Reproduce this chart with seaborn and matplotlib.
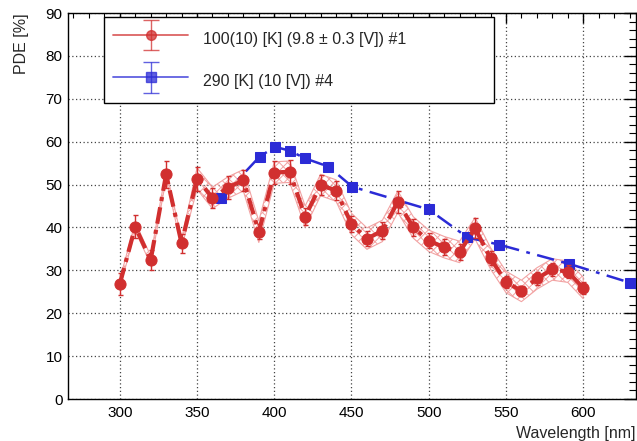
import numpy as np
import pandas as pd
import matplotlib
matplotlib.use("Agg")
import matplotlib.pyplot as plt
import seaborn as sns
from matplotlib.legend_handler import HandlerErrorbar
from matplotlib.container import ErrorbarContainer
from matplotlib.ticker import MultipleLocator

# ---------------- data ----------------
red_label = "100(10) [K] (9.8 \u00b1 0.3 [V]) #1"
blue_label = "290 [K] (10 [V]) #4"

red_wl = [300, 310, 320, 330, 340, 350, 360, 370, 380, 390, 400, 410, 420, 430,
          440, 450, 460, 470, 480, 490, 500, 510, 520, 530, 540, 550, 560, 570,
          580, 590, 600]
red_pde = [26.8, 40.2, 32.4, 52.4, 36.3, 51.4, 46.9, 49.3, 51.0, 39.0, 52.8,
           53.0, 42.5, 49.9, 48.6, 40.8, 37.4, 39.2, 46.0, 40.0, 36.9, 35.4,
           34.3, 39.8, 32.8, 27.3, 25.2, 28.1, 30.2, 29.7, 25.9]
red_err = [2.5, 2.6, 2.3, 3.2, 2.2, 2.8, 2.4, 2.6, 2.5, 1.8, 2.7, 2.8, 2.0, 2.4,
           2.3, 1.9, 1.8, 2.0, 2.6, 1.9, 1.8, 1.8, 1.8, 2.3, 1.6, 1.4, 1.2, 1.4,
           1.5, 1.5, 1.4]
red_band = [1.0, 1.0, 1.0, 1.0, 1.0, 2.5, 2.5, 2.5, 2.5, 2.5, 2.5, 2.5, 2.5,
            2.5, 2.5, 2.5, 2.5, 2.5, 2.5, 2.5, 2.5, 2.5, 2.5, 2.5, 2.5, 2.5,
            2.5, 2.5, 2.5, 2.5, 2.5]

blue_wl = [365.5, 390.5, 400.5, 410, 420, 435, 450.5, 500, 525, 545.5, 591, 630.5]
blue_pde = [46.9, 56.5, 58.8, 57.9, 56.1, 54.2, 49.5, 44.2, 37.7, 36.0, 31.5, 27.1]

x_ticks = [300, 350, 400, 450, 500, 550, 600]
y_ticks = [0, 10, 20, 30, 40, 50, 60, 70, 80, 90]

red_df = pd.DataFrame({"wl": red_wl, "pde": red_pde, "err": red_err, "band": red_band})
blue_df = pd.DataFrame({"wl": blue_wl, "pde": blue_pde})

# ---------------- style ----------------
sns.set_style("white")
plt.rcParams["font.family"] = ["Liberation Sans", "DejaVu Sans"]
plt.rcParams["hatch.linewidth"] = 0.7

RED = "#d12f2f"
BLUE = "#2b2bd6"
BAND = "#f2a3a3"

fig = plt.figure(figsize=(6.37, 4.41), dpi=100)
ax = fig.add_axes([0.1068, 0.0952, 0.8912, 0.8753])

# hatched band
ax.fill_between(red_df["wl"], red_df["pde"] - red_df["band"], red_df["pde"] + red_df["band"],
                facecolor="none", edgecolor=BAND, hatch="xxxx", linewidth=0.8, zorder=2)

# blue series
sns.lineplot(data=blue_df, x="wl", y="pde", ax=ax, color=BLUE, linewidth=1.8,
             linestyle=(0, (7, 3, 1.5, 3)), marker="s", markersize=7.5,
             markeredgecolor=BLUE, sort=False, errorbar=None, zorder=3)

# red series
ax.errorbar(red_df["wl"], red_df["pde"], yerr=red_df["err"], fmt="none",
            ecolor=RED, elinewidth=1.0, capsize=1.8, zorder=4)
sns.lineplot(data=red_df, x="wl", y="pde", ax=ax, color=RED, linewidth=3.0,
             linestyle=(0, (4, 1.5, 1, 1.5)), marker="o", markersize=8,
             markeredgecolor=RED, sort=False, errorbar=None, zorder=5)

# legend handles
h_red = ax.errorbar([np.nan], [np.nan], yerr=[1.0], fmt="o-", color=RED, alpha=0.75,
                    lw=1.3, markersize=7, capsize=6, elinewidth=1.0, label=red_label)
h_blue = ax.errorbar([np.nan], [np.nan], yerr=[1.0], fmt="s-", color=BLUE, alpha=0.75,
                     lw=1.3, markersize=7, capsize=6, elinewidth=1.0, label=blue_label)
leg = ax.legend(handles=[h_red, h_blue], labels=[red_label, blue_label],
                handler_map={ErrorbarContainer: HandlerErrorbar(yerr_size=0.95)},
                loc="upper left", bbox_to_anchor=(0.063, 0.782, 0.687, 0.208),
                mode="expand", borderaxespad=0, fontsize=11.5, handlelength=4.7,
                handleheight=2.0, labelspacing=1.1, handletextpad=0.9,
                borderpad=0.6, fancybox=False, framealpha=1, edgecolor="black",
                numpoints=1)
leg.get_frame().set_linewidth(1.0)
leg.set_zorder(10)

# axes
ax.set_xlim(266.5, 634)
ax.set_ylim(0, 90)
ax.set_xticks(x_ticks)
ax.set_yticks(y_ticks)
ax.xaxis.set_minor_locator(MultipleLocator(10))
ax.yaxis.set_minor_locator(MultipleLocator(2))
ax.tick_params(axis="both", which="both", direction="in", top=True, right=True,
               colors="black", labelsize=11)
ax.tick_params(axis="x", which="major", length=7, width=1, pad=5)
ax.tick_params(axis="x", which="minor", length=3.5, width=0.8)
ax.tick_params(axis="y", which="major", length=8.5, width=1, pad=4)
ax.tick_params(axis="y", which="minor", length=5, width=0.8)
ax.grid(True, which="major", linestyle=(0, (1, 2)), color="#444444", linewidth=0.9)
for s in ax.spines.values():
    s.set_color("black")
    s.set_linewidth(1.0)
    s.set_visible(True)

ax.set_xlabel("Wavelength [nm]", loc="right", fontsize=11.5, labelpad=4)
ax.set_ylabel("PDE [%]", loc="top", fontsize=11.5, labelpad=12)

fig.savefig("out.png", dpi=100, facecolor="white")
